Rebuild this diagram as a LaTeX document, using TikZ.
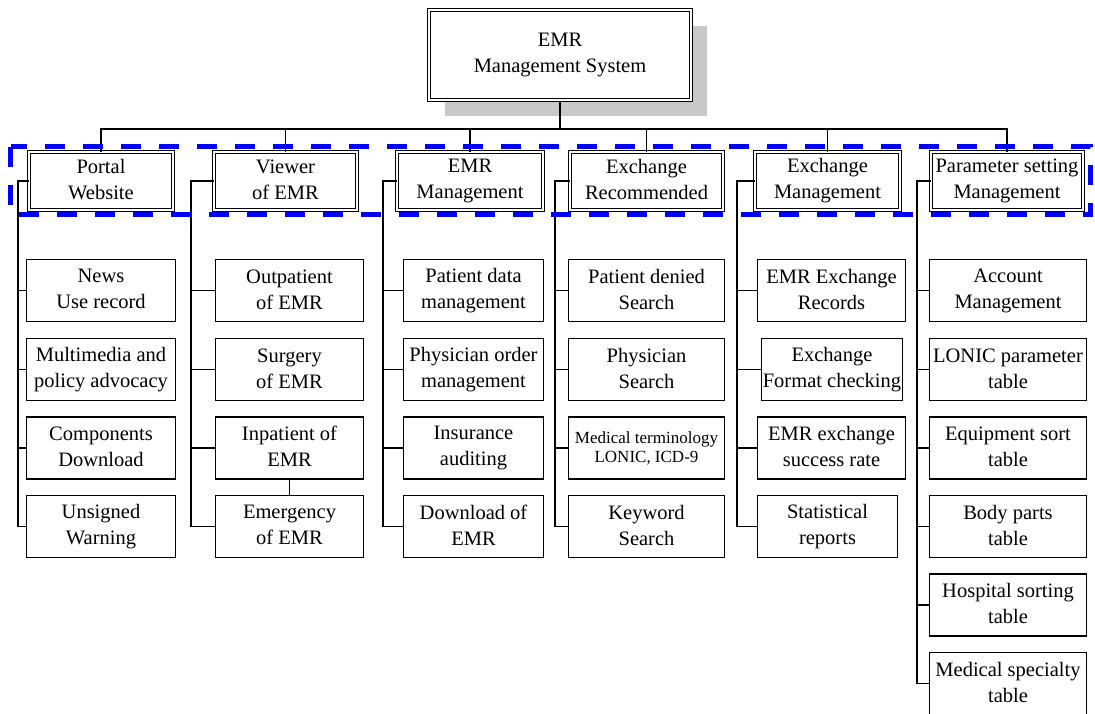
\documentclass[tikz,border=0pt]{standalone}
\usepackage{fontspec}
\setmainfont{Liberation Serif}
\usetikzlibrary{shadows}
\definecolor{shadowgray}{RGB}{200,200,200}
\newcommand{\topstrut}{\rule[-2.5pt]{0pt}{30pt}}
\newcommand{\botstrut}{\rule[-2.5pt]{0pt}{26pt}}
\begin{document}
\begin{tikzpicture}[x=1pt, y=-1pt, line width=1.1pt,
    dblbox/.style={draw, double, double distance=2.3pt, line width=1pt, fill=white,
      inner sep=0pt, align=center, minimum height=58pt, font=\fontsize{20.5}{26}\selectfont,
      execute at begin node=\topstrut, execute at end node=\botstrut},
    itembox/.style={draw, line width=1.1pt, fill=white, inner sep=0pt, align=center,
      minimum height=62pt, font=\fontsize{20.5}{26}\selectfont,
      execute at begin node=\topstrut, execute at end node=\botstrut},
    dashbox/.style={draw=blue, line width=5pt, dash pattern=on 20pt off 18pt}]
    \useasboundingbox (0,0) rectangle (1095,713);
    \node[dblbox, minimum width=262pt, minimum height=90pt,
      drop shadow={shadow xshift=16pt, shadow yshift=-16pt, fill=shadowgray, opacity=1}]
      (emr) at (560,55) {EMR\\Management System};
    \node[dblbox, minimum width=144pt] (portal) at (101,181) {Portal\\Website};
    \node[dblbox, minimum width=143pt] (viewer) at (285.5,181) {Viewer\\of EMR};
    \node[dblbox, minimum width=146pt] (emrmgmt) at (470,181) {EMR\\Management};
    \node[dblbox, minimum width=153pt] (exrec) at (646.5,181) {Exchange\\Recommended};
    \node[dblbox, minimum width=145pt] (exmgmt) at (827.5,181) {Exchange\\Management};
    \node[dblbox, minimum width=152pt] (param) at (1007,181) {Parameter setting\\Management};
    \coordinate (bus) at (560,129);
    \draw (emr.south) -- (bus);
    \draw (portal.north) -- (portal.north |- bus) -- (param.north |- bus) -- (param.north);
    \draw (viewer.north) -- (viewer.north |- bus);
    \draw (emrmgmt.north) -- (emrmgmt.north |- bus);
    \draw (exrec.north) -- (exrec.north |- bus);
    \draw (exmgmt.north) -- (exmgmt.north |- bus);
    \node[itembox, minimum width=149pt] (p1) at (101,290.5) {News\\Use record};
    \node[itembox, minimum width=149pt] (p2) at (101,369.5) {Multimedia and\\policy advocacy};
    \node[itembox, minimum width=149pt] (p3) at (101,448) {Components\\Download};
    \node[itembox, minimum width=149pt] (p4) at (101,526.5) {Unsigned\\Warning};
    \node[itembox, minimum width=148pt] (v1) at (289.5,290.5) {Outpatient\\of EMR};
    \node[itembox, minimum width=148pt] (v2) at (289.5,369.5) {Surgery\\of EMR};
    \node[itembox, minimum width=148pt] (v3) at (289.5,448) {Inpatient of\\EMR};
    \node[itembox, minimum width=148pt] (v4) at (289.5,526.5) {Emergency\\of EMR};
    \draw (v3) -- (v4);
    \node[itembox, minimum width=140pt] (e1) at (473.5,290.5) {Patient data\\management};
    \node[itembox, minimum width=140pt] (e2) at (473.5,369.5) {Physician order\\management};
    \node[itembox, minimum width=140pt] (e3) at (473.5,448) {Insurance\\auditing};
    \node[itembox, minimum width=140pt] (e4) at (473.5,526.5) {Download of\\EMR};
    \node[itembox, minimum width=156pt] (r1) at (646.5,290.5) {Patient denied\\Search};
    \node[itembox, minimum width=156pt] (r2) at (646.5,369.5) {Physician\\Search};
    \node[itembox, minimum width=156pt, font=\fontsize{17}{19}\selectfont] (r3) at (646.5,448)
      {Medical terminology\\LONIC, ICD-9};
    \node[itembox, minimum width=156pt] (r4) at (646.5,526.5) {Keyword\\Search};
    \node[itembox, minimum width=148pt] (x1) at (831.5,290.5) {EMR Exchange\\Records};
    \node[itembox, minimum width=141pt] (x2) at (832,369.5) {Exchange\\Format checking};
    \node[itembox, minimum width=148pt] (x3) at (831.5,448) {EMR exchange\\success rate};
    \node[itembox, minimum width=140pt] (x4) at (827.5,526.5) {Statistical\\reports};
    \node[itembox, minimum width=157pt] (a1) at (1008,290.5) {Account\\Management};
    \node[itembox, minimum width=157pt] (a2) at (1008,369.5) {LONIC parameter\\table};
    \node[itembox, minimum width=157pt] (a3) at (1008,448) {Equipment sort\\table};
    \node[itembox, minimum width=157pt] (a4) at (1008,526.5) {Body parts\\table};
    \node[itembox, minimum width=157pt] (a5) at (1008,605) {Hospital sorting\\table};
    \node[itembox, minimum width=157pt] (a6) at (1008,683.5) {Medical specialty\\table};
    \coordinate (ptr) at (18,181);
    \coordinate (vtr) at (191,181);
    \coordinate (etr) at (383,181);
    \coordinate (rtr) at (555,181);
    \coordinate (xtr) at (737,181);
    \coordinate (atr) at (917,181);
    \draw (portal.west) -- (ptr) |- (p1.west) (ptr) |- (p2.west) (ptr) |- (p3.west) (ptr) |- (p4.west);
    \draw (viewer.west) -- (vtr) |- (v1.west) (vtr) |- (v2.west) (vtr) |- (v3.west) (vtr) |- (v4.west);
    \draw (emrmgmt.west) -- (etr) |- (e1.west) (etr) |- (e2.west) (etr) |- (e3.west) (etr) |- (e4.west);
    \draw (exrec.west) -- (rtr) |- (r1.west) (rtr) |- (r2.west) (rtr) |- (r3.west) (rtr) |- (r4.west);
    \draw (exmgmt.west) -- (xtr) |- (x1.west) (xtr) |- (x2.west) (xtr) |- (x3.west) (xtr) |- (x4.west);
    \draw (param.west) -- (atr) |- (a1.west) (atr) |- (a2.west) (atr) |- (a3.west) (atr) |- (a4.west)
      (atr) |- (a5.west) (atr) |- (a6.west);
    \draw[dashbox] (10.5,146.5) rectangle (1090.5,214.5);
  \end{tikzpicture}
\end{document}
